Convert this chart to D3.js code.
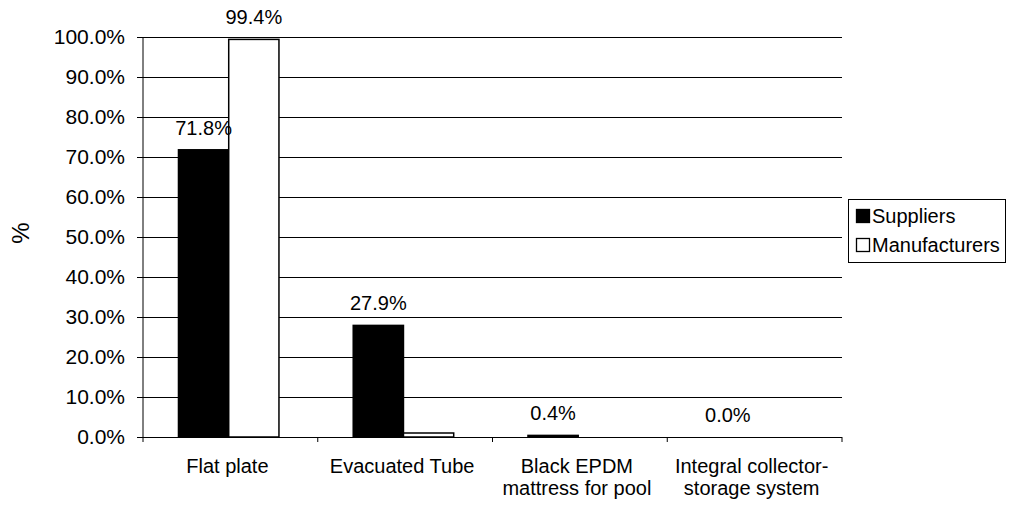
<!DOCTYPE html>
<html>
<head>
<meta charset="utf-8">
<script src="https://cdn.jsdelivr.net/npm/d3@7"></script>
<style>
  body { margin: 0; background: #fff; }
  text { font-family: "Liberation Sans", Arial, sans-serif; fill: #000; }
</style>
</head>
<body>
<script>
// data
var categories = [["Flat plate"], ["Evacuated Tube"], ["Black EPDM", "mattress for pool"], ["Integral collector-", "storage system"]];
var seriesNames = ["Suppliers", "Manufacturers"];
var suppliers = [71.8, 27.9, 0.4, 0.0];
var manufacturers = [99.4, 1.0, 0.0, 0.0];
var supplierLabels = ["71.8%", "27.9%", "0.4%", "0.0%"];
var manufacturerLabels = ["99.4%", null, null, null];
var yTicks = [0, 10, 20, 30, 40, 50, 60, 70, 80, 90, 100];

var width = 1010, height = 507;
var plotL = 143, plotR = 842, plotT = 37, plotB = 437;

var svg = d3.select("body").append("svg").attr("width", width).attr("height", height);

var x0 = d3.scaleBand().domain(d3.range(categories.length)).range([plotL, plotR]).padding(0);
var step = x0.step();
var x1 = d3.scaleBand().domain(seriesNames).range([step * 0.203, step * 0.778]).padding(0);
var y = d3.scaleLinear().domain([0, 100]).range([plotB, plotT]);

// gridlines
svg.append("g").selectAll("line").data(yTicks.slice(1)).enter()
  .append("line")
  .attr("x1", plotL).attr("x2", plotR)
  .attr("y1", d => Math.round(y(d)) + 0.5).attr("y2", d => Math.round(y(d)) + 0.5)
  .attr("stroke", "#000").attr("stroke-width", 1);

// y axis
var yAxis = d3.axisLeft(y).tickValues(yTicks).tickSize(6).tickPadding(12)
  .tickFormat(d => d.toFixed(1) + "%");
var gy = svg.append("g").attr("transform", "translate(" + plotL + ",0)").call(yAxis);
gy.selectAll("text").style("font-size", "21px").style("font-family", "Liberation Sans, Arial, sans-serif");
gy.select(".domain").attr("d", "M0," + plotT + "V" + plotB).attr("stroke", "#000");
gy.selectAll(".tick line").attr("stroke", "#000");

svg.append("text")
  .attr("transform", "translate(29," + 233 + ") rotate(-90)")
  .attr("text-anchor", "middle")
  .style("font-size", "24px")
  .text("%");

// bars
var series = [suppliers, manufacturers];
var fills = ["#000", "#fff"];
series.forEach((vals, s) => {
  svg.append("g").selectAll("rect").data(vals).enter()
    .append("rect")
    .attr("x", (d, i) => x0(i) + x1(seriesNames[s]))
    .attr("y", d => y(d))
    .attr("width", x1.bandwidth())
    .attr("height", d => plotB - y(d))
    .attr("fill", fills[s])
    .attr("stroke", "#000").attr("stroke-width", 1.5);
});

// value labels
[supplierLabels, manufacturerLabels].forEach((labs, s) => {
  var vals = series[s];
  svg.append("g").selectAll("text").data(labs).enter()
    .filter(d => d !== null)
    .append("text")
    .attr("x", (d, i) => x0(i) + x1(seriesNames[s]) + x1.bandwidth() / 2)
    .attr("y", (d, i) => y(vals[i]) - 15)
    .attr("text-anchor", "middle")
    .style("font-size", "20px")
    .text(d => d);
});

// x axis
var gx = svg.append("g").attr("transform", "translate(0," + plotB + ")");
gx.append("line").attr("x1", plotL).attr("x2", plotR).attr("y1", 0.5).attr("y2", 0.5).attr("stroke", "#000");
gx.selectAll(".tk").data(d3.range(categories.length + 1)).enter()
  .append("line")
  .attr("x1", i => plotL + i * step).attr("x2", i => plotL + i * step)
  .attr("y1", 0).attr("y2", 5).attr("stroke", "#000");
gx.selectAll(".lab").data(categories).enter()
  .append("text")
  .attr("text-anchor", "middle")
  .attr("transform", (d, i) => "translate(" + (x0(i) + step / 2 - 3) + ",36)")
  .style("font-size", "20px")
  .each(function(d) {
    d3.select(this).selectAll("tspan").data(d).enter()
      .append("tspan").attr("x", 0).attr("dy", (t, j) => j ? 22 : 0).text(t => t);
  });

// legend
var lg = svg.append("g").attr("transform", "translate(848,199)");
lg.append("rect").attr("x", 0.5).attr("y", 0.5).attr("width", 157).attr("height", 63)
  .attr("fill", "#fff").attr("stroke", "#000").attr("stroke-width", 1);
seriesNames.forEach((n, i) => {
  lg.append("rect").attr("x", 8.5).attr("y", 10.5 + i * 29).attr("width", 13).attr("height", 13)
    .attr("fill", fills[i]).attr("stroke", "#000").attr("stroke-width", 1.3);
  lg.append("text").attr("x", 24).attr("y", 24 + i * 29)
    .style("font-size", "20px").text(n);
});
</script>
</body>
</html>
